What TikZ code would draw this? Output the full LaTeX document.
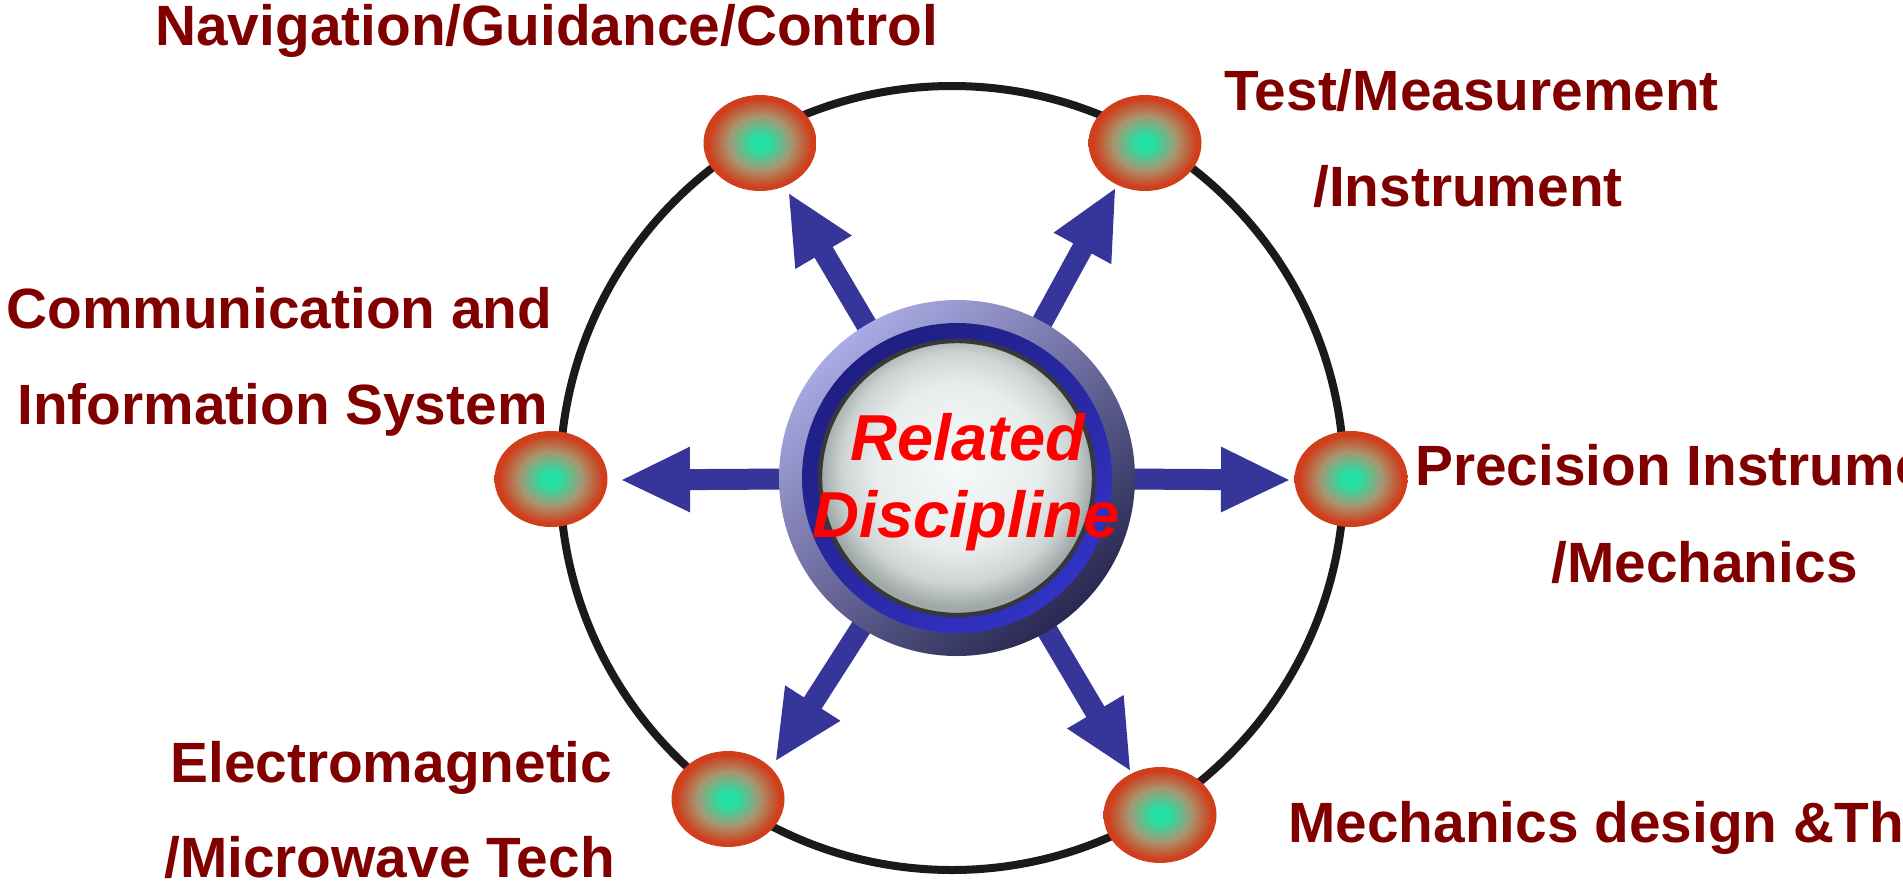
\documentclass[tikz,border=0pt]{standalone}
\usepackage{fontspec}
\setmainfont{Liberation Sans}
\usetikzlibrary{shapes.geometric,arrows.meta,calc}
\definecolor{lblred}{RGB}{128,0,0}
\definecolor{relred}{RGB}{255,0,0}
\definecolor{ringblack}{RGB}{26,26,26}
\definecolor{arrowblue}{RGB}{53,53,154}
\definecolor{nodegreen}{RGB}{36,224,164}
\definecolor{nodemid}{RGB}{168,150,112}
\definecolor{nodeorange}{RGB}{208,62,28}
\definecolor{outerA}{RGB}{170,170,228}
\definecolor{outerB}{RGB}{70,70,176}
\definecolor{outerC}{RGB}{40,40,82}
\definecolor{bandA}{RGB}{30,30,130}
\definecolor{bandB}{RGB}{50,50,196}
\definecolor{discline}{RGB}{56,56,56}
\definecolor{discw}{RGB}{248,250,250}
\definecolor{discl}{RGB}{232,236,236}
\definecolor{discm}{RGB}{206,212,212}
\definecolor{discd}{RGB}{160,168,168}
\pgfdeclareradialshading{nodeshade}{\pgfpoint{0bp}{0bp}}{color(0bp)=(nodegreen); color(4bp)=(nodegreen); color(14bp)=(nodemid); color(23bp)=(nodeorange); color(50bp)=(nodeorange)}
\pgfdeclareradialshading{discshade}{\pgfpoint{0bp}{3bp}}{color(0bp)=(discw); color(15bp)=(discl); color(21bp)=(discm); color(25bp)=(discd); color(50bp)=(discd)}
\tikzset{
  lbl/.style={anchor=base west, inner sep=0pt, text=lblred, font=\fontsize{28.4}{34}\selectfont\bfseries},
  rel/.style={anchor=base, inner sep=0pt, text=relred, font=\fontsize{32.5}{39}\selectfont\bfseries\itshape},
  dot/.style={ellipse, minimum width=56.5pt, minimum height=48pt, inner sep=0pt, shade, shading=nodeshade},
  ringline/.style={draw=ringblack, line width=4pt},
  bigarrow/.style={draw=arrowblue, line width=10.5pt, -{Triangle[length=35pt,width=30pt]}}
}
\begin{document}
\begin{tikzpicture}[x=0.5pt,y=-0.5pt]
\useasboundingbox (0,0) rectangle (1903,880);
\clip (0,0) rectangle (1903,880);
% big ring
\coordinate (ringc) at (952,478);
\draw[ringline] (ringc) circle[radius=196pt];
% satellite nodes
\node[dot] (e1) at (760,143) {};
\node[dot] (e2) at (1145,143) {};
\node[dot] (e3) at (551,479) {};
\node[dot] (e4) at (1351,479) {};
\node[dot] (e5) at (728,799) {};
\node[dot] (e6) at (1160,815) {};
% arrows
\coordinate (c) at (957,478);
\coordinate (t1) at (788,192);
\coordinate (t2) at (1116,187);
\coordinate (t3) at (620,480);
\coordinate (t4) at (1291,480);
\coordinate (t5) at (775,762);
\coordinate (t6) at (1131,772);
\foreach \t in {t1,t2,t3,t4,t5,t6} { \draw[bigarrow] (c) -- (\t); }
% central disc
\shade[top color=outerA, middle color=outerB, bottom color=outerC, shading angle=40] (c) circle[radius=89pt];
\shade[top color=bandA, bottom color=bandB, shading angle=40] (c) circle[radius=77.5pt];
\path[shade, shading=discshade, draw=discline, line width=2.2pt] (c) circle[radius=68.5pt];
\node[rel] (rel1) at (968,460) {Related};
\node[rel] (rel2) at (966,537) {Discipline};
% labels
\node[lbl] (l1) at (155,45) {Navigation/Guidance/Control};
\node[lbl] (l2) at (1224,110) {Test/Measurement};
\node[lbl] (l3) at (1313,206) {/Instrument};
\node[lbl] (l4) at (6,328) {Communication and};
\node[lbl] (l5) at (17,424) {Information System};
\node[lbl] (l6) at (1415,485) {Precision Instrument};
\node[lbl] (l7) at (1551,582) {/Mechanics};
\node[lbl] (l8) at (1288,842) {Mechanics design \&Thermal};
\node[lbl] (l9) at (170,782) {Electromagnetic};
\node[lbl] (l10) at (164,877) {/Microwave Tech};
\end{tikzpicture}
\end{document}
